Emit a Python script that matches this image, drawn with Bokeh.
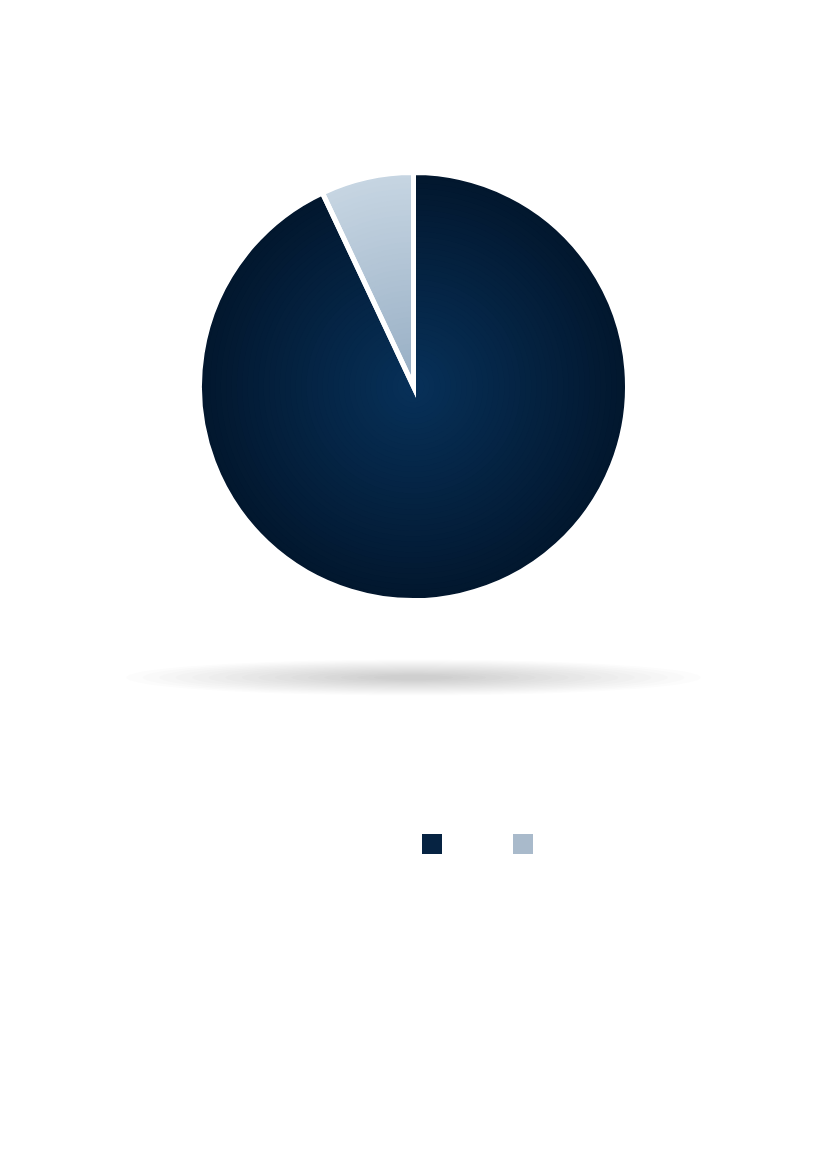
import numpy as np
from bokeh.plotting import figure
from bokeh.models import Range1d, Legend, LegendItem
from bokeh.embed import file_html
from bokeh.resources import INLINE

# ---- data ----
categories = ["Segment A", "Segment B"]
values = [93, 7]
legend_colors = ["#062342", "#a9bacb"]
# radial gradient stops (edge colour, centre colour) per slice
edge_colors = ["#02172e", "#c6d5e2"]
center_colors = ["#073058", "#97aec4"]

W, H = 811, 1153
p = figure(width=W, height=H, x_range=Range1d(0, W), y_range=Range1d(0, H),
           output_backend="svg", toolbar_location=None, min_border=0)
p.axis.visible = False
p.grid.visible = False
p.outline_line_color = None
p.background_fill_color = "white"
p.border_fill_color = "white"

cx, cy, R = 413, 767, 214

# ---- shadow ----
NS = 16
sw = np.linspace(575, 80, NS)
sh = np.linspace(36, 6, NS)
p.ellipse(x=[cx] * NS, y=[cy - 291] * NS, width=sw, height=sh,
          fill_color="black", fill_alpha=0.012, line_color=None)


def hex2rgb(h):
    h = h.lstrip("#")
    return np.array([int(h[i:i + 2], 16) for i in (0, 2, 4)], dtype=float)


def rgb2hex(c):
    return "#%02x%02x%02x" % tuple(int(round(v)) for v in c)


# angles: second category starts at the top and runs anticlockwise, then the first
total = float(sum(values))
order = [1, 0]
start = np.pi / 2
angles = {}
for i in order:
    end = start + 2 * np.pi * values[i] / total
    angles[i] = (start, end)
    start = end

items = []
N = 40
for i in order:
    s, e = angles[i]
    base = p.wedge(x=cx, y=cy, radius=R, start_angle=s, end_angle=e,
                   fill_color=legend_colors[i], line_color=None)
    rs = R * (1 - np.arange(N) / N)
    t = np.linspace(0, 1, N)
    c0, c1 = hex2rgb(edge_colors[i]), hex2rgb(center_colors[i])
    cols = [rgb2hex(c0 + (c1 - c0) * tt) for tt in t]
    p.wedge(x=[cx] * N, y=[cy] * N, radius=rs, start_angle=[s] * N, end_angle=[e] * N,
            fill_color=cols, line_color=None)
    items.append((i, base))

for i in order:
    s, e = angles[i]
    p.wedge(x=cx, y=cy, radius=R, start_angle=s, end_angle=e,
            fill_color=None, line_color="white", line_width=5, line_join="miter")

items.sort(key=lambda t: t[0])
legend = Legend(items=[LegendItem(label=" ", renderers=[r]) for _, r in items],
                orientation="horizontal", location=(419, 297),
                glyph_width=25, glyph_height=25, padding=0, margin=0, spacing=0,
                label_standoff=0, label_width=66, label_height=25,
                label_text_font_size="10px", border_line_color=None,
                background_fill_alpha=0)
p.add_layout(legend)

open("out.html", "w").write(file_html(p, INLINE))
